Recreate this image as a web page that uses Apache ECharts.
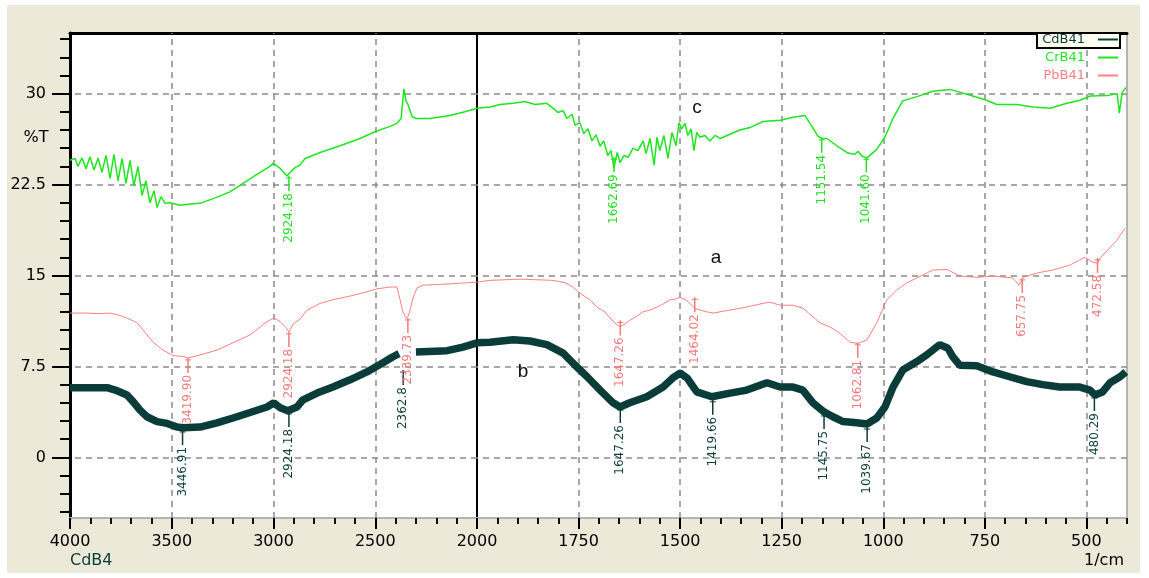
<!DOCTYPE html>
<html><head><meta charset="utf-8">
<script src="https://cdn.jsdelivr.net/npm/echarts@6/dist/echarts.min.js"></script>
<style>html,body{margin:0;padding:0;background:#fff}#c{width:1149px;height:578px}</style>
</head><body><div id="c"></div>
<script>
// ---- data: [wavenumber (1/cm), %T] ----
const seriesNames = ['CdB41', 'CrB41', 'PbB41'];
const cdB41 = [[4000,5.75],[3818,5.75],[3769,5.5],[3720,5.15],[3690,4.6],[3656,3.9],[3622,3.35],[3572,2.95],[3523,2.8],[3474,2.5],[3445,2.45],[3361,2.5],[3278,2.85],[3199,3.25],[3115,3.7],[3032,4.15],[2998,4.5],[2968,4.1],[2929,3.85],[2885,4.15],[2855,4.75],[2786,5.3],[2708,5.8],[2624,6.4],[2541,7.05],[2462,7.8],[2413,8.3],[2383,8.55],[2340,'-'],[2300,8.7],[2147,8.8],[2069,9.1],[2000,9.45],[1968,9.5],[1911,9.7],[1870,9.6],[1828,9.3],[1788,8.6],[1754,7.45],[1729,6.65],[1697,5.55],[1665,4.5],[1648,4.15],[1624,4.5],[1582,5.0],[1542,5.8],[1518,6.55],[1500,6.95],[1483,6.55],[1459,5.4],[1422,5.0],[1377,5.3],[1336,5.55],[1286,6.15],[1254,5.8],[1222,5.8],[1198,5.55],[1173,4.5],[1146,3.75],[1124,3.35],[1099,2.95],[1065,2.85],[1040,2.75],[1016,3.25],[996,4.15],[976,5.8],[952,7.2],[917,7.9],[893,8.45],[861,9.3],[841,9.0],[829,8.3],[812,7.6],[770,7.55],[730,7.05],[689,6.65],[647,6.25],[607,6.0],[566,5.8],[516,5.8],[491,5.55],[479,5.15],[460,5.4],[442,6.15],[417,6.65],[403,7.05]];
const crB41 = [[4000,24.5],[3975,24.65],[3961,24.0],[3941,24.7],[3921,23.8],[3902,24.8],[3882,23.7],[3862,24.7],[3843,23.5],[3823,24.9],[3803,23.0],[3784,25.0],[3764,22.8],[3744,24.65],[3725,22.6],[3705,24.5],[3686,22.4],[3666,24.0],[3646,21.6],[3627,22.8],[3607,21.0],[3587,22.0],[3572,20.6],[3553,21.5],[3533,20.95],[3509,21.0],[3459,20.8],[3410,20.9],[3361,20.95],[3287,21.4],[3214,21.9],[3140,22.7],[3066,23.5],[3017,24.0],[3002,24.25],[2968,23.85],[2934,23.2],[2919,23.5],[2894,23.9],[2870,24.1],[2845,24.65],[2771,25.15],[2673,25.7],[2575,26.3],[2496,26.9],[2427,27.3],[2393,27.55],[2373,27.95],[2359,30.4],[2349,29.4],[2339,29.1],[2319,28.1],[2300,27.95],[2231,27.95],[2133,28.2],[2059,28.5],[2000,28.8],[1968,28.9],[1943,29.1],[1911,29.2],[1882,29.35],[1857,29.1],[1828,29.2],[1813,28.8],[1801,28.45],[1788,28.6],[1779,27.95],[1766,28.3],[1759,27.4],[1747,27.6],[1737,26.7],[1727,27.1],[1717,26.1],[1707,26.6],[1697,25.65],[1688,26.1],[1678,24.9],[1670,25.3],[1663,23.85],[1655,25.15],[1648,24.3],[1638,24.9],[1628,24.75],[1616,25.5],[1604,25.3],[1591,26.1],[1584,25.05],[1574,26.3],[1564,24.1],[1557,26.4],[1550,25.3],[1540,26.55],[1530,24.65],[1520,26.8],[1510,25.7],[1503,27.6],[1496,27.1],[1488,27.55],[1481,26.55],[1473,27.1],[1466,25.3],[1459,26.8],[1451,26.4],[1439,26.55],[1427,26.1],[1414,26.55],[1402,26.3],[1377,26.65],[1353,27.0],[1328,27.2],[1296,27.7],[1254,27.8],[1222,28.05],[1193,28.2],[1173,27.15],[1161,26.5],[1151,26.3],[1139,26.3],[1114,25.7],[1087,25.1],[1070,25.0],[1062,25.25],[1053,24.85],[1040,24.7],[1016,25.4],[996,26.4],[976,27.95],[952,29.4],[917,29.75],[878,30.2],[836,30.35],[794,29.95],[745,29.45],[721,29.1],[671,29.1],[631,28.9],[589,28.8],[548,29.2],[516,29.45],[491,29.8],[449,29.85],[424,30.0],[419,28.4],[412,30.1],[402,30.5]];
const pbB41 = [[4000,11.9],[3916,11.9],[3853,11.85],[3803,11.9],[3764,11.75],[3720,11.5],[3671,11.1],[3641,10.5],[3592,9.5],[3543,8.85],[3494,8.4],[3435,8.3],[3420,8.2],[3361,8.45],[3278,8.85],[3199,9.45],[3115,10.1],[3032,11.2],[2998,11.5],[2968,11.2],[2939,10.7],[2924,10.35],[2904,11.0],[2870,11.4],[2835,12.15],[2771,12.7],[2708,13.0],[2624,13.3],[2541,13.65],[2491,13.9],[2427,14.05],[2393,14.05],[2378,13.0],[2364,12.0],[2349,11.5],[2339,11.6],[2329,12.15],[2314,13.2],[2295,13.95],[2265,14.2],[2147,14.3],[2000,14.45],[1968,14.6],[1894,14.7],[1813,14.6],[1783,14.4],[1764,14.05],[1747,13.55],[1722,13.0],[1705,12.4],[1685,12.0],[1673,11.5],[1661,11.1],[1648,10.75],[1636,11.0],[1624,11.3],[1606,11.65],[1592,12.0],[1574,12.15],[1557,12.4],[1542,12.65],[1525,13.0],[1513,13.05],[1500,13.2],[1486,13.0],[1476,12.7],[1464,12.3],[1451,12.15],[1434,12.0],[1419,11.9],[1377,12.15],[1336,12.4],[1296,12.7],[1279,12.8],[1254,12.55],[1222,12.55],[1198,12.3],[1173,11.6],[1156,11.1],[1131,10.75],[1107,10.25],[1082,9.5],[1062,9.4],[1040,9.7],[1016,11.1],[991,13.0],[967,13.8],[942,14.4],[917,14.8],[878,15.45],[843,15.5],[811,14.95],[769,14.85],[730,14.95],[681,14.8],[666,14.2],[659,14.6],[656,14.85],[622,15.2],[583,15.45],[541,15.85],[504,16.5],[484,16.1],[472,16.0],[467,16.4],[442,17.3],[425,17.9],[405,18.9]];

// peak annotations: wavenumber, %T at the mark, label text
const cdPeakWn = [3446.91, 2924.18, 2362.8, 1647.26, 1419.66, 1145.75, 1039.67, 480.29];
const cdPeakT  = [2.26, 3.75, 7.2, 4.07, 4.75, 3.58, 2.5, 5.06];
const cdPeakLabels = ['3446.91', '2924.18', '2362.8', '1647.26', '1419.66', '1145.75', '1039.67', '480.29'];
const crPeakWn = [2924.18, 1662.69, 1151.54, 1041.60];
const crPeakT  = [23.2, 24.75, 26.35, 24.75];
const crPeakLabels = ['2924.18', '1662.69', '1151.54', '1041.60'];
const pbPeakWn = [3419.90, 2924.18, 2339.73, 1647.26, 1464.02, 1062.81, 657.75, 472.58];
const pbPeakT  = [8.2, 10.35, 11.5, 11.3, 13.2, 9.45, 14.8, 16.45];
const pbPeakLabels = ['3419.90', '2924.18', '2339.73', '1647.26', '1464.02', '1062.81', '657.75', '472.58'];

// curve letters
const letterText = ['c', 'a', 'b'];
const letterWn = [1458.5, 1411.7, 1886.8];
const letterT = [28.8, 16.45, 7.04];

// axis ticks
const xMajorLeft = [4000, 3500, 3000, 2500];
const xMajorRight = [2000, 1750, 1500, 1250, 1000, 750, 500];
const yMajor = [0, 7.5, 15, 22.5, 30];

// ---- build ----
const xMinorLeft = []; for (let w = 2000; w <= 4000; w += 100) xMinorLeft.push(w);
const xMinorRight = []; for (let w = 400; w <= 2000; w += 50) xMinorRight.push(w);
const yMinor = []; for (let k = -3; k <= 23; k++) yMinor.push(Math.round(k * 15) / 10);

const COLORS = { CdB41: '#0a3d3a', CrB41: '#1ee61e', PbB41: '#ff7f7f' };
const LABEL_COLORS = { CdB41: '#0a3d3a', CrB41: '#22e022', PbB41: '#f77878' };
const WIDTHS = { CdB41: 7.5, CrB41: 1.5, PbB41: 1 };
const FONT = '"DejaVu Sans", sans-serif';

const axesFor = [
  { x: 0, y: 0, test: d => d[0] >= 2000 },
  { x: 3, y: 3, test: d => d[0] <= 2000 }
];

const series = [];
const gridLineStyle = { type: [6, 5], color: '#8a8a8a', width: 1.5 };
series.push({
  type: 'line', data: [], xAxisIndex: 0, yAxisIndex: 0, silent: true,
  markLine: { silent: true, z: 1, symbol: ['none', 'none'], label: { show: false }, lineStyle: gridLineStyle, animation: false,
    data: xMajorLeft.slice(1).map(v => ({ xAxis: v })).concat(yMajor.map(v => ({ yAxis: v }))) }
});
series.push({
  type: 'line', data: [], xAxisIndex: 3, yAxisIndex: 3, silent: true,
  markLine: { silent: true, z: 1, symbol: ['none', 'none'], label: { show: false }, lineStyle: gridLineStyle, animation: false,
    data: xMajorRight.slice(1).map(v => ({ xAxis: v })).concat(yMajor.map(v => ({ yAxis: v }))) }
});

const spectra = [['CdB41', cdB41], ['PbB41', pbB41], ['CrB41', crB41]];
spectra.forEach(([name, arr]) => {
  axesFor.forEach(a => {
    series.push({
      type: 'line', name, xAxisIndex: a.x, yAxisIndex: a.y, data: arr.filter(a.test),
      symbol: 'none', showSymbol: false, connectNulls: false, z: 3, silent: true,
      lineStyle: { color: COLORS[name], width: WIDTHS[name], join: 'bevel' },
      itemStyle: { color: COLORS[name] }
    });
  });
});

function peakSeries(name, wns, ts, texts) {
  const color = LABEL_COLORS[name];
  axesFor.forEach((a, gi) => {
    const data = [];
    wns.forEach((w, i) => { const inside = gi === 0 ? w >= 2000 : w < 2000; if (inside) data.push([w, ts[i], i]); });
    series.push({
      type: 'custom', name: name + '-peaks', xAxisIndex: a.x, yAxisIndex: a.y, data, z: 4, silent: true,
      renderItem: (params, api) => {
        const p = api.coord([api.value(0), api.value(1)]);
        const txt = texts[api.value(2)];
        return { type: 'group', children: [
          { type: 'line', shape: { x1: p[0], y1: p[1], x2: p[0], y2: p[1] + 15 }, style: { stroke: color, lineWidth: 1.5 } },
          { type: 'line', shape: { x1: p[0] - 3, y1: p[1] + 2, x2: p[0] + 3, y2: p[1] + 2 }, style: { stroke: color, lineWidth: 1 } },
          { type: 'text', x: p[0], y: p[1] + 17, rotation: Math.PI / 2,
            style: { text: txt, fill: color, font: '12px ' + FONT, align: 'right', verticalAlign: 'middle' } }
        ] };
      }
    });
  });
}
peakSeries('CdB41', cdPeakWn, cdPeakT, cdPeakLabels);
peakSeries('PbB41', pbPeakWn, pbPeakT, pbPeakLabels);
peakSeries('CrB41', crPeakWn, crPeakT, crPeakLabels);

series.push({
  type: 'custom', name: 'letters', xAxisIndex: 3, yAxisIndex: 3, z: 5, silent: true,
  data: letterWn.map((w, i) => [w, letterT[i], i]),
  renderItem: (params, api) => {
    const p = api.coord([api.value(0), api.value(1)]);
    return { type: 'text', x: p[0], y: p[1],
      style: { text: letterText[api.value(2)], fill: '#111', font: '19px "Liberation Sans", Arial, sans-serif', align: 'center', verticalAlign: 'middle' } };
  }
});

const tickStyle = { color: '#000', width: 2 };
const labelStyle = { fontSize: 16, fontFamily: FONT, color: '#000' };
function xAxes(grid, min, max, minor, majorTicks, majorLabels) {
  return [
    { gridIndex: grid, type: 'value', min, max, inverse: true, position: 'bottom',
      axisLine: { show: true, onZero: false, lineStyle: { color: '#b4b4b4', width: 2 } },
      axisTick: { show: true, customValues: minor, length: 6, lineStyle: { color: '#111', width: 2 } },
      axisLabel: { show: false }, splitLine: { show: false } },
    { gridIndex: grid, type: 'value', min, max, inverse: true, position: 'bottom',
      axisLine: { show: false, onZero: false },
      axisTick: { show: true, customValues: majorTicks, length: 11, lineStyle: tickStyle },
      axisLabel: Object.assign({ show: true, customValues: majorLabels, margin: 16, formatter: v => String(v) }, labelStyle),
      splitLine: { show: false } },
    { gridIndex: grid, type: 'value', min, max, inverse: true, position: 'top',
      axisLine: { show: true, onZero: false, lineStyle: { color: '#000', width: 3 } },
      axisTick: { show: false }, axisLabel: { show: false }, splitLine: { show: false } }
  ];
}

const option = {
  animation: false,
  backgroundColor: '#ffffff',
  graphic: [
    { type: 'rect', z: -10, silent: true, shape: { x: 7, y: 5, width: 1133, height: 568 }, style: { fill: '#ECE9D8' } },
    { type: 'rect', z: 5, silent: true, shape: { x: 1037, y: 33, width: 83, height: 15 }, style: { fill: '#FFFFF0', stroke: '#000', lineWidth: 2 } },
    { type: 'text', z: 5, silent: true, x: 36, y: 138, style: { text: '%T', font: '16px ' + FONT, fill: '#000', align: 'center', verticalAlign: 'middle' } },
    { type: 'text', z: 5, silent: true, x: 70, y: 561, style: { text: 'CdB4', font: '16px ' + FONT, fill: '#0a3d3a', align: 'left', verticalAlign: 'middle' } },
    { type: 'text', z: 5, silent: true, x: 1124, y: 561, style: { text: '1/cm', font: '16px ' + FONT, fill: '#000', align: 'right', verticalAlign: 'middle' } }
  ],
  legend: {
    orient: 'vertical', right: 31, top: 33, padding: 0, align: 'right', icon: 'rect', itemWidth: 20, itemHeight: 2, itemGap: 5,
    selectedMode: false, z: 10,
    textStyle: { fontFamily: FONT, fontSize: 13, lineHeight: 12, padding: [0, 8, 0, 0] },
    data: seriesNames.map(n => ({ name: n, textStyle: { color: COLORS[n] } }))
  },
  grid: [
    { left: 70, top: 33, width: 407, height: 485, show: true, backgroundColor: '#fff', borderWidth: 0, outerBoundsMode: 'none' },
    { left: 477, top: 33, width: 650, height: 485, show: true, backgroundColor: '#fff', borderWidth: 0, outerBoundsMode: 'none' }
  ],
  xAxis: [].concat(
    xAxes(0, 2000, 4000, xMinorLeft, xMajorLeft.concat([2000]), xMajorLeft),
    xAxes(1, 400, 2000, xMinorRight, xMajorRight, xMajorRight)
  ),
  yAxis: [
    { gridIndex: 0, type: 'value', min: -5, max: 35, position: 'left',
      axisLine: { show: true, onZero: false, lineStyle: { color: '#000', width: 3 } },
      axisTick: { show: true, customValues: yMinor, length: 10, lineStyle: tickStyle },
      axisLabel: { show: false }, splitLine: { show: false } },
    { gridIndex: 0, type: 'value', min: -5, max: 35, position: 'left',
      axisLine: { show: false, onZero: false },
      axisTick: { show: true, customValues: yMajor, length: 18, lineStyle: tickStyle },
      axisLabel: Object.assign({ show: true, customValues: yMajor, margin: 24, formatter: v => String(v) }, labelStyle),
      splitLine: { show: false } },
    { gridIndex: 0, type: 'value', min: -5, max: 35, position: 'right',
      axisLine: { show: true, onZero: false, lineStyle: { color: '#000', width: 2 } },
      axisTick: { show: false }, axisLabel: { show: false }, splitLine: { show: false } },
    { gridIndex: 1, type: 'value', min: -5, max: 35, position: 'right',
      axisLine: { show: true, onZero: false, lineStyle: { color: '#b4b4b4', width: 2 } },
      axisTick: { show: false }, axisLabel: { show: false }, splitLine: { show: false } }
  ],
  series
};
const chart = echarts.init(document.getElementById('c'), null, { renderer: 'canvas' });
chart.setOption(option);
</script>
</body></html>
